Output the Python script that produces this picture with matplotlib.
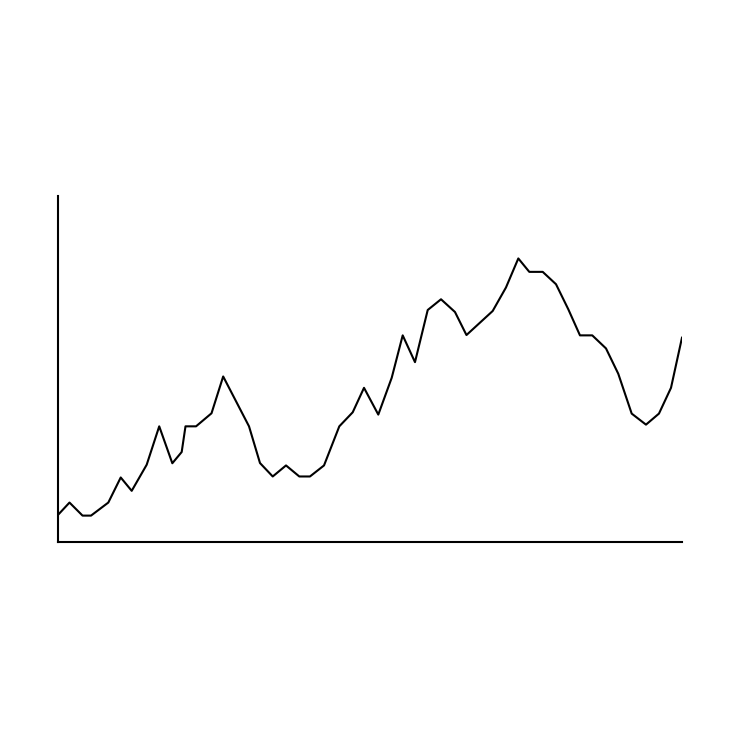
import matplotlib
matplotlib.use("Agg")
import matplotlib.pyplot as plt

# values (x and y on a 0-100 scale)
x_vals = [0, 1.84, 3.93, 5.29, 8.06, 10.05, 11.81, 14.21, 16.22, 18.32,
          19.82, 20.43, 22.12, 24.60, 26.47, 30.61, 32.37, 34.41, 36.54, 38.67,
          40.38, 42.63, 45.08, 47.23, 49.04, 51.33, 53.48, 55.24, 57.21, 59.25,
          61.38, 63.62, 65.46, 69.66, 71.79, 73.77, 75.53, 77.68, 79.81, 81.78,
          83.65, 85.62, 87.82, 89.79, 91.94, 94.23, 96.31, 98.24, 100]
y_vals = [7.83, 11.39, 7.62, 7.62, 11.39, 18.64, 14.78, 22.32, 33.42, 22.75,
          26.0, 33.42, 33.42, 37.19, 47.83, 33.42, 22.81, 18.93, 22.12, 18.93,
          18.93, 22.12, 33.42, 37.48, 44.55, 36.81, 47.45, 59.71, 51.97, 67.04,
          70.14, 66.46, 59.80, 66.75, 73.54, 81.94, 78.06, 78.06, 74.49, 67.25,
          59.71, 59.71, 55.94, 48.61, 37.10, 33.91, 37.10, 44.55, 59.04]

fig = plt.figure(figsize=(7.4, 7.4), dpi=100)
ax = fig.add_axes([0.0784, 0.2676, 0.8432, 0.4676])

ax.plot(x_vals, y_vals, color="black", linewidth=1.5)

ax.set_xlim(0, 100)
ax.set_ylim(0, 100)
ax.spines["top"].set_visible(False)
ax.spines["right"].set_visible(False)
ax.spines["left"].set_linewidth(1.5)
ax.spines["bottom"].set_linewidth(1.5)
ax.set_xticks([])
ax.set_yticks([])

fig.savefig("out.png", dpi=100)
